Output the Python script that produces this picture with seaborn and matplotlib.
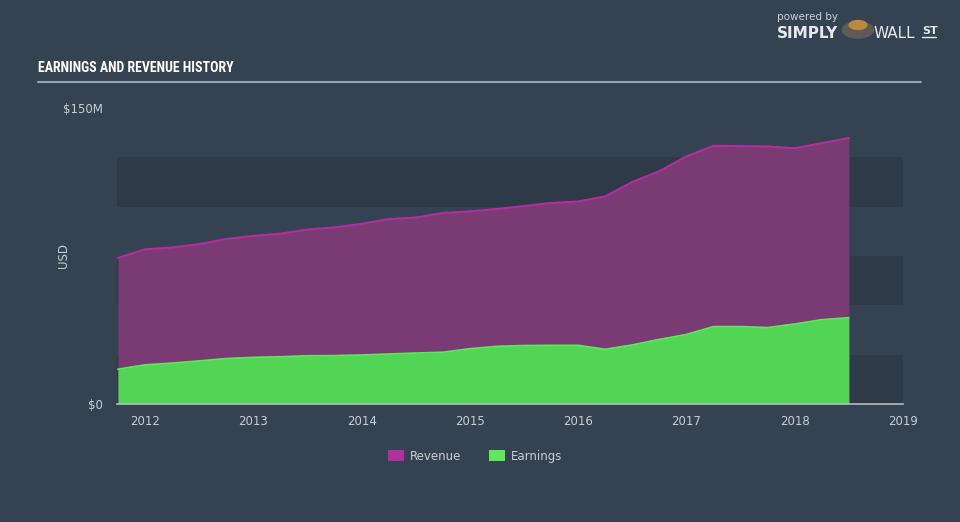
import matplotlib
matplotlib.use("Agg")
import matplotlib.pyplot as plt
import seaborn as sns
import pandas as pd
from matplotlib.patches import Patch, Circle
from matplotlib import font_manager

# ---- data (USD millions) ----
years = [2011.75, 2012.0, 2012.25, 2012.5, 2012.75, 2013.0, 2013.25, 2013.5, 2013.75,
         2014.0, 2014.25, 2014.5, 2014.75, 2015.0, 2015.25, 2015.5, 2015.75, 2016.0,
         2016.25, 2016.5, 2016.75, 2017.0, 2017.25, 2017.5, 2017.75, 2018.0, 2018.25, 2018.5]
revenue = [74.0, 78.4, 79.3, 81.0, 83.6, 85.2, 86.3, 88.4, 89.5,
           91.3, 93.7, 94.5, 96.8, 97.6, 98.8, 100.3, 101.9, 102.6,
           105.2, 112.5, 118.0, 125.5, 130.8, 130.7, 130.5, 129.6, 132.2, 134.8]
earnings = [17.6, 19.8, 20.7, 21.8, 23.0, 23.6, 23.9, 24.4, 24.5,
            24.8, 25.3, 25.8, 26.2, 28.0, 29.2, 29.6, 29.7, 29.7,
            27.7, 29.9, 32.7, 35.2, 39.2, 39.2, 38.7, 40.5, 42.7, 43.7]
xtick_years = [2012, 2013, 2014, 2015, 2016, 2017, 2018, 2019]
ytick_vals = [0, 150]
ytick_labels = ["$0", "$150M"]
band_edges = [(0, 25), (50, 75), (100, 125)]

df = pd.DataFrame({"year": years, "Revenue": revenue, "Earnings": earnings})

BG = "#344252"
BAND = "#2e3a48"
REV_FILL = "#7a3a74"
REV_LINE = "#b0309e"
EARN_FILL = "#52d454"
EARN_LINE = "#5ee85c"
TXT = "#c9ced4"

sns.set_style("dark")
plt.rcParams["font.family"] = ["DejaVu Sans"]

# pick a condensed face for the title if one is installed
names = {f.name for f in font_manager.fontManager.ttflist}
title_family = "DejaVu Sans"
title_size = 9
for cand in ["DejaVu Sans Condensed", "Liberation Sans Narrow", "Roboto Condensed",
             "Open Sans Condensed"]:
    if cand in names:
        title_family = cand
        title_size = 10
        break

fig = plt.figure(figsize=(9.6, 5.22), dpi=100, facecolor=BG)
ax = fig.add_axes([117/960, 1-404/522, (903-117)/960, (404-108)/522])
ax.set_facecolor(BG)

for lo, hi in band_edges:
    ax.axhspan(lo, hi, color=BAND, zorder=0, lw=0)

ax.fill_between(df["year"], 0, df["Revenue"], color=REV_FILL, lw=0, zorder=1)
ax.fill_between(df["year"], 0, df["Earnings"], color=EARN_FILL, lw=0, zorder=2)
sns.lineplot(data=df, x="year", y="Revenue", ax=ax, color=REV_LINE, lw=1.5, zorder=3)
sns.lineplot(data=df, x="year", y="Earnings", ax=ax, color=EARN_LINE, lw=1.3, zorder=3)

ax.set_xlim(2012 - 28/108.3, 2019.0)
ax.set_ylim(0, 150)
ax.grid(False)
for s in ["top", "right", "left"]:
    ax.spines[s].set_visible(False)
ax.spines["bottom"].set_color("#b4bac2")
ax.spines["bottom"].set_linewidth(1.2)

ax.set_xticks(xtick_years)
ax.set_xticklabels([str(y) for y in xtick_years], color=TXT, fontsize=8.5)
ax.tick_params(axis="x", colors="#b4bac2", length=6, width=1.2, pad=2, labelcolor=TXT)
ax.set_yticks(ytick_vals)
ax.set_yticklabels(ytick_labels, color=TXT, fontsize=8.5)
ax.tick_params(axis="y", length=0, pad=10, labelcolor=TXT)
ax.set_xlabel("")
ax.set_ylabel("USD", color=TXT, fontsize=8.5)
ax.yaxis.set_label_coords(-0.060, 0.5)

# title and rule
fig.text(38/960, 1-68/522, "EARNINGS AND REVENUE HISTORY", color="white",
         fontsize=title_size, fontweight="bold",
         family=[title_family, "DejaVu Sans"], va="center", ha="left")
fig.add_artist(plt.Line2D([38/960, 921/960], [1-82/522, 1-82/522],
                          color="#9aa3ad", lw=1.5, transform=fig.transFigure))

# legend
handles = [Patch(facecolor=REV_LINE, edgecolor="none", label="Revenue"),
           Patch(facecolor=EARN_LINE, edgecolor="none", label="Earnings")]
leg = fig.legend(handles=handles, loc="center", bbox_to_anchor=(475/960, 1-456/522),
                 ncol=2, frameon=False, fontsize=8.5, labelcolor=TXT,
                 handlelength=1.3, handleheight=1.1, columnspacing=2.4, handletextpad=0.5)

# logo
fig.text(777/960, 1-17/522, "powered by", color="#c9ced4", fontsize=7.5, va="center", ha="left")
fig.text(777/960, 1-33/522, "SIMPLY", color="#e6e9ec", fontsize=11, fontweight="bold",
         va="center", ha="left")
fig.add_artist(Circle((858/960, 1-30/522), 0.017, transform=fig.transFigure,
                      facecolor="#5d5a57", edgecolor="none"))
fig.add_artist(Circle((858/960, 1-25/522), 0.010, transform=fig.transFigure,
                      facecolor="#b98a3c", edgecolor="none"))
fig.text(873/960, 1-33/522, "WALL", color="#e6e9ec", fontsize=11, va="center", ha="left")
fig.text(922/960, 1-31/522, "ST", color="#e6e9ec", fontsize=8, fontweight="bold",
         va="center", ha="left")
fig.add_artist(plt.Line2D([922/960, 936/960], [1-37/522, 1-37/522],
                          color="#e6e9ec", lw=1.0, transform=fig.transFigure))

fig.savefig("out.png", dpi=100, facecolor=BG)
